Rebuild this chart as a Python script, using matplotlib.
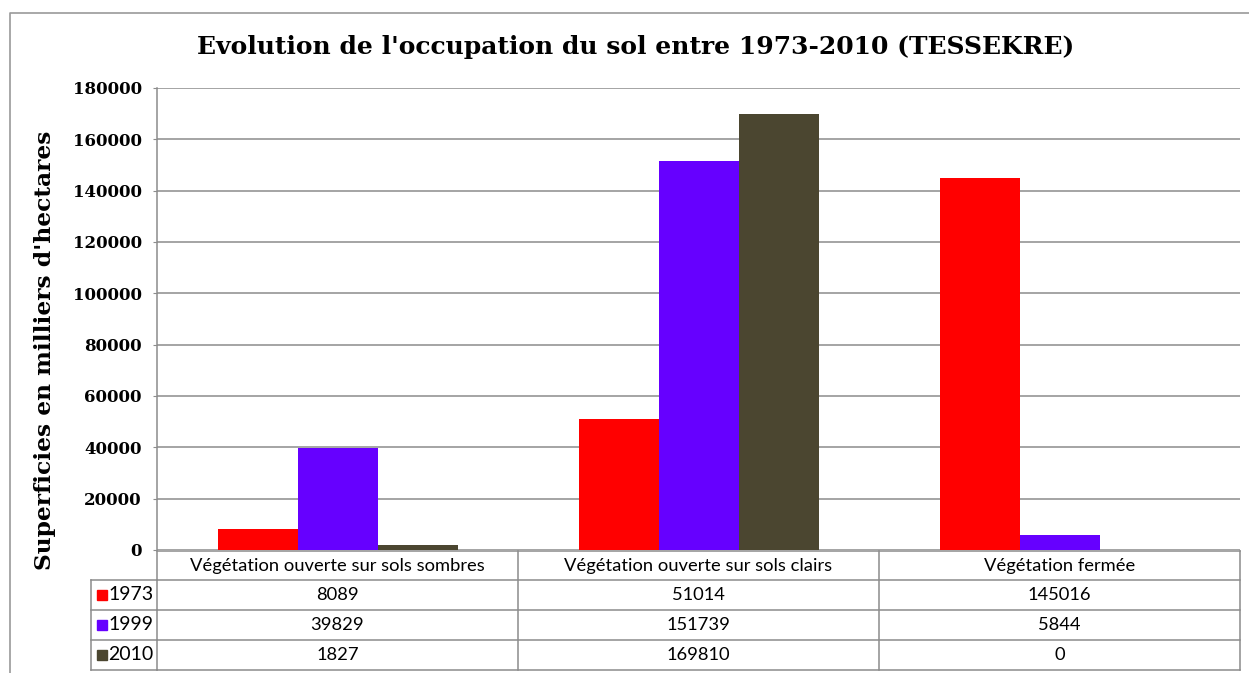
import matplotlib
matplotlib.use("Agg")
from matplotlib import pyplot as plt
from matplotlib.lines import Line2D
from matplotlib.patches import Rectangle
from matplotlib import transforms
import numpy as np

categories = ["Végétation ouverte sur sols sombres",
              "Végétation ouverte sur sols clairs",
              "Végétation fermée"]
years = ["1973", "1999", "2010"]
values_1973 = [8089, 51014, 145016]
values_1999 = [39829, 151739, 5844]
values_2010 = [1827, 169810, 0]
series = [values_1973, values_1999, values_2010]
colors = ["#ff0000", "#6600ff", "#4b4630"]
yticks = [0, 20000, 40000, 60000, 80000, 100000, 120000, 140000, 160000, 180000]

W, H = 1249, 673
GRID = "#8c8c8c"
SERIF = "DejaVu Serif"
SANS = "Lato"


def fx(px):
    return px / W


def fy(py):
    return 1 - py / H


fig = plt.figure(figsize=(W / 100, H / 100), dpi=100)
ax = fig.add_axes([fx(157), fy(550), fx(1240) - fx(157), fy(88) - fy(550)])

# grouped bars
width = 80 / 361
x = np.arange(len(categories)) + 0.5
for i, vals in enumerate(series):
    ax.bar(x + (i - 1) * width, vals, width, color=colors[i], zorder=3)

ax.set_xlim(0, len(categories))
ax.set_ylim(0, 180000)
ax.set_yticks(yticks)
ax.set_yticklabels([str(t) for t in yticks], fontfamily=SERIF,
                   fontweight="bold", fontsize=12)
ax.set_xticks([])
ax.yaxis.grid(True, color=GRID, linewidth=1.1, zorder=0)
ax.tick_params(axis="y", length=3, color=GRID, pad=8)
for side in ["top", "right", "bottom"]:
    ax.spines[side].set_visible(False)
ax.spines["left"].set_color(GRID)
ax.spines["left"].set_linewidth(1.1)

fig.text(fx(636), fy(47), "Evolution de l'occupation du sol entre 1973-2010 (TESSEKRE)",
         fontfamily=SERIF, fontweight="bold", fontsize=18, ha="center", va="center")
fig.text(fx(45), fy(350), "Superficies en milliers d'hectares", rotation=90,
         fontfamily=SERIF, fontweight="bold", fontsize=16.8, ha="center", va="center")

# data table under the axes
trans = transforms.blended_transform_factory(ax.transData, fig.transFigure)
row_tops = [551, 580, 610, 640, 670]
col_x = [0, 1, 2, 3]


def hline(x0, x1, py, tr=trans):
    fig.add_artist(Line2D([x0, x1], [fy(py), fy(py)], transform=tr,
                          color=GRID, linewidth=1.1))


def vline(xv, py0, py1, tr=trans):
    fig.add_artist(Line2D([xv, xv], [fy(py0), fy(py1)], transform=tr,
                          color=GRID, linewidth=1.1))


for py in row_tops:
    hline(0, 3, py)
for xv in col_x:
    vline(xv, row_tops[0], row_tops[-1])
for py in row_tops[1:]:
    hline(fx(91), fx(157), py, fig.transFigure)
vline(fx(91), row_tops[1], row_tops[-1], fig.transFigure)

for j, cat in enumerate(categories):
    fig.text(j + 0.5, fy((row_tops[0] + row_tops[1]) / 2), cat, transform=trans,
             fontfamily=SANS, fontsize=13.2, ha="center", va="center")
    for i, vals in enumerate(series):
        yc = fy((row_tops[i + 1] + row_tops[i + 2]) / 2)
        fig.text(j + 0.5, yc, str(vals[j]), transform=trans,
                 fontfamily=SANS, fontsize=13.2, ha="center", va="center")

for i, yr in enumerate(years):
    yc = (row_tops[i + 1] + row_tops[i + 2]) / 2
    fig.add_artist(Rectangle((fx(97), fy(yc + 5)), fx(10), fy(yc - 5) - fy(yc + 5),
                             transform=fig.transFigure, color=colors[i]))
    fig.text(fx(108), fy(yc), yr, fontfamily=SANS, fontsize=14,
             ha="left", va="center")

# outer frame
fig.add_artist(Line2D([fx(10), fx(10), 1], [0, fy(13), fy(13)],
                      transform=fig.transFigure, color="#9a9a9a", linewidth=1.2))

fig.savefig("out.png", dpi=100)
